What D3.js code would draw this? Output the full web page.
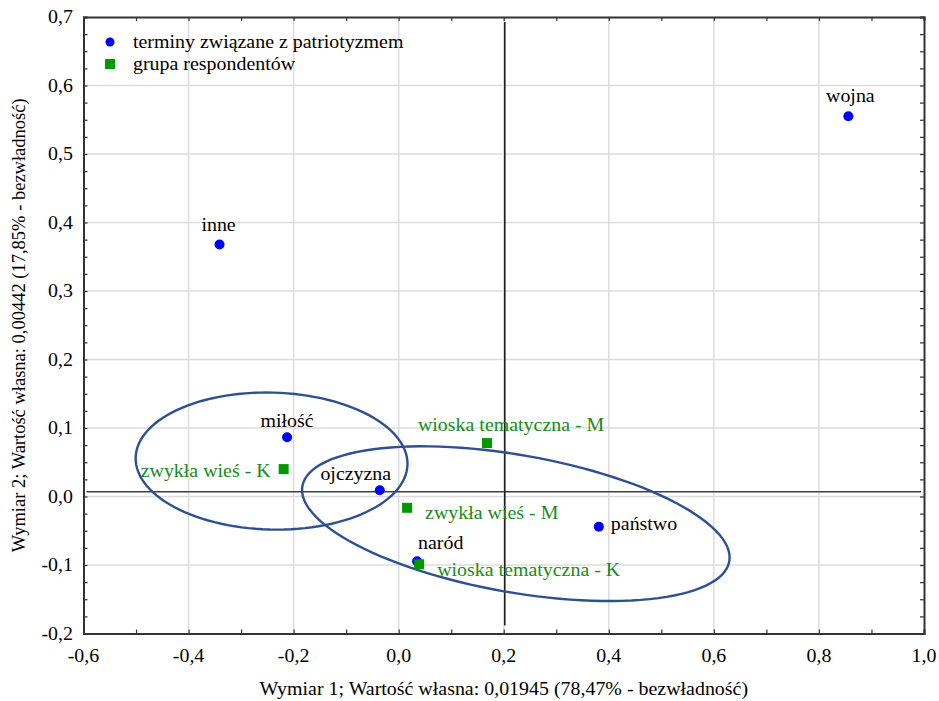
<!DOCTYPE html>
<html><head><meta charset="utf-8">
<script src="https://cdn.jsdelivr.net/npm/d3@7"></script>
<style>body{margin:0;background:#fff}svg text{font-family:"Liberation Serif","Times New Roman",serif}</style>
</head><body><svg id="c" width="939" height="701"></svg>
<script>
// Data
const termNames = ["wojna","inne","miłość","ojczyzna","państwo","naród"];
const termX = [0.856, -0.341, -0.2125, -0.036, 0.381, 0.035];
const termY = [0.555, 0.368, 0.0866, 0.009, -0.044, -0.0945];
const groupNames = ["zwykła wieś - K","zwykła wieś - M","wioska tematyczna - M","wioska tematyczna - K"];
const groupX = [-0.219, 0.016, 0.168, 0.039];
const groupY = [0.040, -0.0165, 0.078, -0.099];
const xTicks = [-0.6,-0.4,-0.2,0.0,0.2,0.4,0.6,0.8,1.0];
const yTicks = [-0.2,-0.1,0.0,0.1,0.2,0.3,0.4,0.5,0.6,0.7];
const refX = 0.202, refY = 0.007;
// ellipses: center (data), semi-axes (in x-data units), angle (deg)
const ellCX = [-0.242, 0.223];
const ellCY = [0.0517, -0.0397];
const ellA = [0.2588, 0.4126];
const ellB = [0.1304, 0.1307];
const ellAng = [1.5, 10.0];
const legendLabels = ["terminy związane z patriotyzmem","grupa respondentów"];

const svg = d3.select("#c");
const L=83.5, R=924, T=17, B=633.5;
const x = d3.scaleLinear().domain([-0.6,1.0]).range([L,R]);
const y = d3.scaleLinear().domain([-0.2,0.7]).range([B,T]);
const fmt = v => d3.format(".1f")(v).replace(".",",").replace("−","-");
const FS = 18.5, SX = 1.077;

function hText(g, px, py, anchor, str, color){
  return g.append("text").attr("transform",`translate(${px},${py}) scale(${SX},1)`)
    .attr("text-anchor",anchor).attr("font-size",FS).attr("fill",color||"#000").text(str);
}

// grid
svg.append("g").selectAll("line").data(xTicks.slice(1,-1)).join("line")
  .attr("x1",d=>x(d)).attr("x2",d=>x(d)).attr("y1",T).attr("y2",B)
  .attr("stroke","#dcdcdc").attr("stroke-width",1.5);
svg.append("g").selectAll("line").data(yTicks.slice(1,-1)).join("line")
  .attr("y1",d=>y(d)).attr("y2",d=>y(d)).attr("x1",L).attr("x2",R)
  .attr("stroke","#dcdcdc").attr("stroke-width",1.5);

// axes with inward ticks
const xMinor = d3.range(-0.6,1.0001,0.1);
const yMinor = d3.range(-0.2,0.7001,0.025);
const axB = svg.append("g").attr("transform",`translate(0,${B})`)
  .call(d3.axisBottom(x).tickValues(xMinor).tickSize(-4).tickFormat(""));
const axT = svg.append("g").attr("transform",`translate(0,${T})`)
  .call(d3.axisTop(x).tickValues(xMinor).tickSize(-4).tickFormat(""));
const axL = svg.append("g").attr("transform",`translate(${L},0)`)
  .call(d3.axisLeft(y).tickValues(yMinor).tickSize(-4).tickFormat(""));
const axR = svg.append("g").attr("transform",`translate(${R},0)`)
  .call(d3.axisRight(y).tickValues(yMinor).tickSize(-4).tickFormat(""));
[axB,axT,axL,axR].forEach(a=>{a.select(".domain").attr("stroke","#333").attr("stroke-width",2);
  a.selectAll(".tick line").attr("stroke","#333").attr("stroke-width",1.2);});

// tick labels
const gxt = svg.append("g");
xTicks.forEach(v=>hText(gxt, x(v), 662, "middle", fmt(v)));
const gyt = svg.append("g");
yTicks.forEach(v=>hText(gyt, 73, y(v)+6, "end", fmt(v)));

// axis titles
hText(svg, (L+R)/2, 695, "middle", "Wymiar 1; Wartość własna: 0,01945 (78,47% - bezwładność)");
svg.append("text").attr("transform",`translate(25,${(T+B)/2}) rotate(-90)`).attr("text-anchor","middle").attr("font-size",FS).attr("fill","#000")
  .text("Wymiar 2; Wartość własna: 0,00442 (17,85% - bezwładność)");

// reference lines
svg.append("line").attr("x1",L+3).attr("x2",R-3).attr("y1",y(refY)).attr("y2",y(refY)).attr("stroke","#404040").attr("stroke-width",1.6);
svg.append("line").attr("x1",x(refX)).attr("x2",x(refX)).attr("y1",T+5).attr("y2",B-8).attr("stroke","#202020").attr("stroke-width",1.6);

// ellipses
const kx = x(1)-x(0);
ellCX.forEach((cx,i)=>{
  const th = ellAng[i]*Math.PI/180, a=ellA[i]*kx, b=ellB[i]*kx;
  const pts = d3.range(0,361,3).map(t=>{const r=t*Math.PI/180;
    return [x(cx)+a*Math.cos(th)*Math.cos(r)-b*Math.sin(th)*Math.sin(r),
            y(ellCY[i])+a*Math.sin(th)*Math.cos(r)+b*Math.cos(th)*Math.sin(r)];});
  svg.append("path").attr("d",d3.line().curve(d3.curveLinearClosed)(pts))
    .attr("fill","none").attr("stroke","#2e5090").attr("stroke-width",2.4);
});

// points
svg.append("g").selectAll("circle").data(termX).join("circle")
  .attr("cx",d=>x(d)).attr("cy",(d,i)=>y(termY[i])).attr("r",5).attr("fill","#0000ff");
svg.append("g").selectAll("rect").data(groupX).join("rect")
  .attr("x",d=>x(d)-5).attr("y",(d,i)=>y(groupY[i])-5).attr("width",10).attr("height",10).attr("fill","#009900");

// labels: offsets relative to marks
const termOff = [[2,-14,"middle"],[-1,-13,"middle"],[0,-10,"middle"],[-24,-10,"middle"],[12,3,"start"],[1,-12,"start"]];
const gl = svg.append("g");
termNames.forEach((n,i)=>hText(gl, x(termX[i])+termOff[i][0], y(termY[i])+termOff[i][1], termOff[i][2], n));
const grpOff = [[-13,8,"end"],[18,11,"start"],[-69,-12,"start"],[18,12,"start"]];
groupNames.forEach((n,i)=>hText(gl, x(groupX[i])+grpOff[i][0], y(groupY[i])+grpOff[i][1], grpOff[i][2], n, "#1a8a1a"));

// legend
svg.append("circle").attr("cx",110).attr("cy",42).attr("r",4.5).attr("fill","#0000ff");
svg.append("rect").attr("x",105).attr("y",59).attr("width",10).attr("height",10).attr("fill","#009900");
legendLabels.forEach((t,i)=>hText(svg, 133, 48+i*22, "start", t));
</script></body></html>
